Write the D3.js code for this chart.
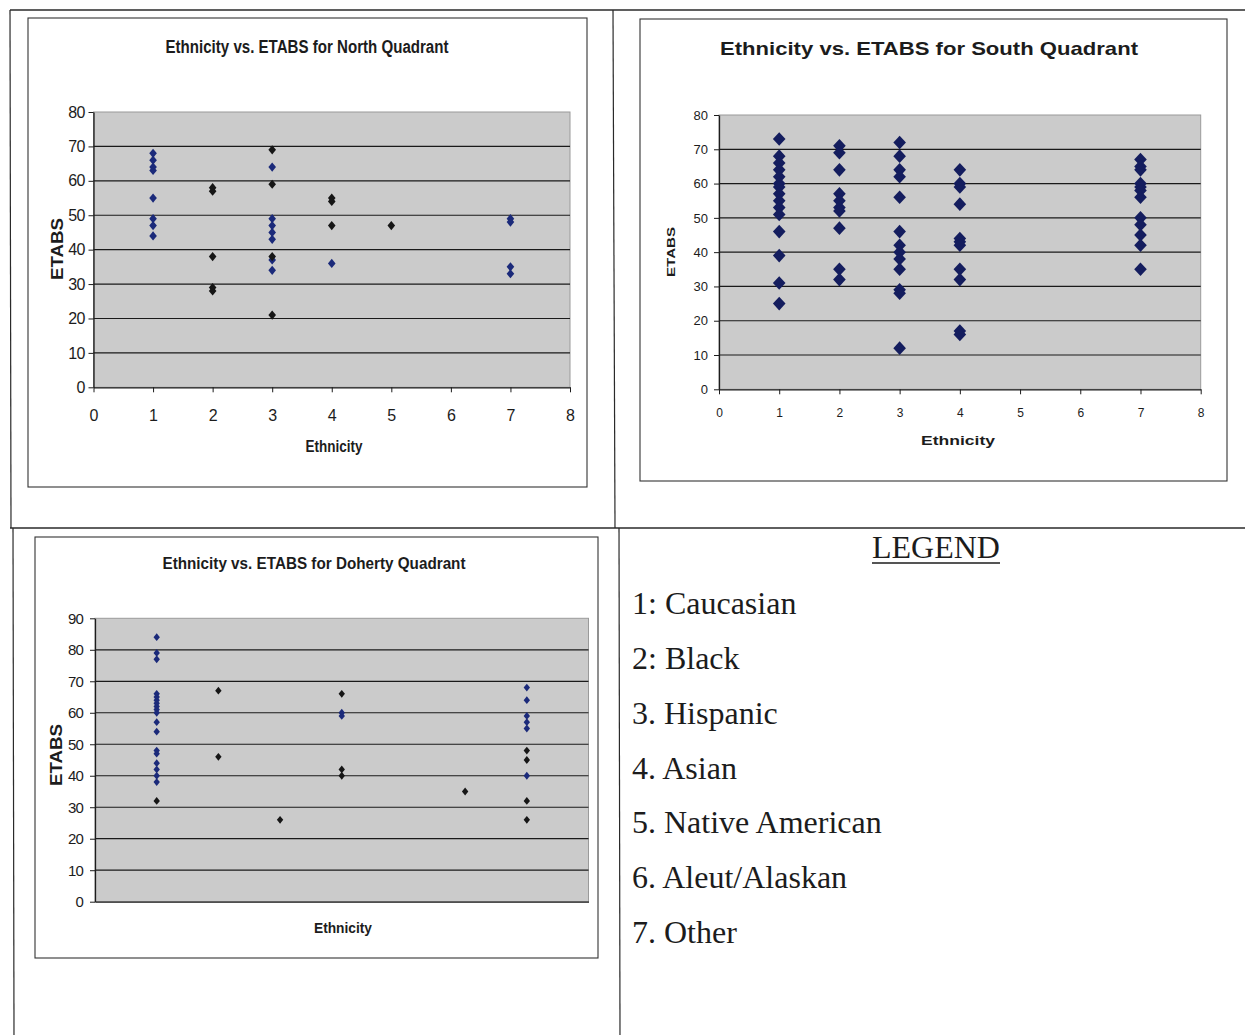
<!DOCTYPE html>
<html><head><meta charset="utf-8">
<script src="https://cdn.jsdelivr.net/npm/d3@7"></script>
<style>body{margin:0;background:#fff} svg{display:block}</style>
</head><body>
<svg id="c" width="1245" height="1035"></svg>
<script>
// ---------- DATA ----------
const xTicks = [0,1,2,3,4,5,6,7,8];
const northYTicks = [0,10,20,30,40,50,60,70,80];
const southYTicks = [0,10,20,30,40,50,60,70,80];
const dohertyYTicks = [0,10,20,30,40,50,60,70,80,90];

// [ethnicity, ETABS]
const northSeriesA = [[1,68],[1,66],[1,64],[1,63],[1,55],[1,49],[1,47],[1,44],
  [3,64],[3,49],[3,47],[3,45],[3,43],[3,37],[3,34],[4,36],[7,49],[7,48],[7,35],[7,33]];
const northSeriesB = [[2,58],[2,57],[2,38],[2,29],[2,28],[3,69],[3,59],[3,38],[3,21],
  [4,55],[4,54],[4,47],[5,47]];

const southSeries = [[1,73],[1,68],[1,66],[1,64],[1,62],[1,60],[1,59],[1,57],[1,55],[1,53],[1,51],[1,46],[1,39],[1,31],[1,25],
  [2,71],[2,69],[2,64],[2,57],[2,55],[2,53],[2,52],[2,47],[2,35],[2,32],
  [3,72],[3,68],[3,64],[3,62],[3,56],[3,46],[3,42],[3,40],[3,38],[3,35],[3,29],[3,28],[3,12],
  [4,64],[4,60],[4,59],[4,54],[4,44],[4,43],[4,42],[4,35],[4,32],[4,17],[4,16],
  [7,67],[7,65],[7,64],[7,60],[7,59],[7,58],[7,56],[7,50],[7,48],[7,45],[7,42],[7,35]];

const dohertySeriesA = [[1,84],[1,79],[1,77],[1,66],[1,65],[1,64],[1,63],[1,62],[1,61],[1,60],[1,57],[1,54],
  [1,48],[1,47],[1,44],[1,42],[1,40],[1,38],[4,60],[4,59],[7,68],[7,64],[7,59],[7,57],[7,55],[7,40]];
const dohertySeriesB = [[1,32],[2,67],[2,46],[3,26],[4,66],[4,42],[4,40],[6,35],[7,48],[7,45],[7,32],[7,26]];

const legendTitle = "LEGEND";
const legendItems = ["1: Caucasian","2: Black","3. Hispanic","4. Asian","5. Native American","6. Aleut/Alaskan","7. Other"];

// ---------- DRAW ----------
const svg = d3.select("#c");
const INK = "#1c1c1c";

// document table lines
const tbl = svg.append("g").attr("stroke", "#2a2a2a").attr("fill","none");
tbl.append("line").attr("x1",10).attr("y1",10).attr("x2",1245).attr("y2",10).attr("stroke-width",1.6);
tbl.append("line").attr("x1",10).attr("y1",10).attr("x2",11).attr("y2",528).attr("stroke-width",1.2);
tbl.append("line").attr("x1",13).attr("y1",528).attr("x2",14).attr("y2",1035).attr("stroke-width",1.2);
tbl.append("line").attr("x1",613).attr("y1",10).attr("x2",615).attr("y2",528).attr("stroke-width",1.2);
tbl.append("line").attr("x1",619).attr("y1",528).attr("x2",620).attr("y2",1035).attr("stroke-width",1.2);
tbl.append("line").attr("x1",10).attr("y1",528).attr("x2",1245).attr("y2",528).attr("stroke-width",1.4);

function diamond(hw, hh){ return `M0,${-hh}L${hw},0L0,${hh}L${-hw},0Z`; }

function drawChart(c){
  const g = svg.append("g");
  g.append("rect").attr("x",c.box[0]).attr("y",c.box[1]).attr("width",c.box[2]-c.box[0]).attr("height",c.box[3]-c.box[1])
    .attr("fill","#fff").attr("stroke","#333").attr("stroke-width",1.1);
  const x = d3.scaleLinear().domain([0,8]).range([c.left,c.right]);
  const y = d3.scaleLinear().domain([0,c.ymax]).range([c.bottom,c.top]);
  g.append("rect").attr("x",c.left).attr("y",c.top).attr("width",c.right-c.left).attr("height",c.bottom-c.top)
    .attr("fill","#cbcbcb").attr("stroke","#9a9a9a").attr("stroke-width",1);
  g.append("g").selectAll("line").data(c.yTicks.filter(v=>v>0 && v<c.ymax)).join("line")
    .attr("x1",c.left).attr("x2",c.right).attr("y1",d=>y(d)).attr("y2",d=>y(d))
    .attr("stroke","#1a1a1a").attr("stroke-width",1.2);
  // y axis
  const ya = g.append("g").attr("transform",`translate(${c.left},0)`)
    .call(d3.axisLeft(y).tickValues(c.yTicks).tickSize(5).tickPadding(c.yPad).tickSizeOuter(0));
  ya.select(".domain").attr("stroke",INK).attr("stroke-width",1.3);
  ya.selectAll(".tick line").attr("stroke",INK);
  ya.selectAll("text").attr("font-family","Liberation Sans, Arial, sans-serif").attr("font-size",c.yFont)
    .attr("fill",INK).attr("letter-spacing",c.yLs||0);
  // x axis
  const xa = g.append("g").attr("transform",`translate(0,${c.bottom})`)
    .call(d3.axisBottom(x).tickValues(xTicks).tickSize(c.xLabels?5:0).tickPadding(c.xPad).tickSizeOuter(0)
      .tickFormat(c.xLabels? d3.format("d") : ()=>""));
  xa.select(".domain").attr("stroke",INK).attr("stroke-width",1.3);
  xa.selectAll(".tick line").attr("stroke",INK);
  xa.selectAll("text").attr("font-family","Liberation Sans, Arial, sans-serif").attr("font-size",c.xFont).attr("fill",INK);
  // title
  g.append("text").attr("x",c.title.x).attr("y",c.title.y).attr("text-anchor","middle")
    .attr("font-family","Liberation Sans, Arial, sans-serif").attr("font-weight","bold").attr("font-size",c.title.size)
    .attr("fill",INK).attr("textLength",c.title.len).attr("lengthAdjust","spacingAndGlyphs").text(c.title.text);
  // axis titles
  g.append("text").attr("x",c.xt.x).attr("y",c.xt.y).attr("text-anchor","middle")
    .attr("font-family","Liberation Sans, Arial, sans-serif").attr("font-weight","bold").attr("font-size",c.xt.size)
    .attr("fill",INK).attr("textLength",c.xt.len).attr("lengthAdjust","spacingAndGlyphs").text("Ethnicity");
  g.append("text").attr("transform",`translate(${c.yt.x},${c.yt.y}) rotate(-90)`).attr("text-anchor","middle")
    .attr("dominant-baseline","central")
    .attr("font-family","Liberation Sans, Arial, sans-serif").attr("font-weight","bold").attr("font-size",c.yt.size)
    .attr("fill",INK).attr("textLength",c.yt.len).attr("lengthAdjust","spacingAndGlyphs").text("ETABS");
  // points
  c.series.forEach(s=>{
    g.append("g").selectAll("path").data(s.data).join("path")
      .attr("transform",d=>`translate(${x(d[0])},${y(d[1])})`)
      .attr("d",diamond(s.hw,s.hh)).attr("fill",s.color);
  });
}

drawChart({
  box:[28,18,587,487], left:93.5, right:570, top:112, bottom:387.3, ymax:80, yTicks:northYTicks,
  yPad:4, yFont:16, yLs:-0.8, xLabels:true, xPad:17, xFont:16,
  title:{x:307,y:53,size:18,len:283,text:"Ethnicity vs. ETABS for North Quadrant"},
  xt:{x:334,y:452,size:16,len:57}, yt:{x:57.5,y:249,size:16,len:62},
  series:[{data:northSeriesA,color:"#1b2a7a",hw:3.8,hh:4.6},{data:northSeriesB,color:"#161616",hw:3.8,hh:4.6}]
});
drawChart({
  box:[640,19,1227,481], left:719, right:1200.7, top:115, bottom:389.3, ymax:80, yTicks:southYTicks,
  yPad:6, yFont:13, xLabels:true, xPad:14, xFont:12,
  title:{x:929,y:55,size:19,len:418,text:"Ethnicity vs. ETABS for South Quadrant"},
  xt:{x:958,y:445,size:12,len:74}, yt:{x:671,y:252,size:11,len:50},
  series:[{data:southSeries,color:"#141d5e",hw:6.3,hh:6.8}]
});
drawChart({
  box:[35,537,598,958], left:95, right:588.5, top:618.3, bottom:901.7, ymax:90, yTicks:dohertyYTicks,
  yPad:7, yFont:15, yLs:-0.8, xLabels:false, xPad:0, xFont:12,
  title:{x:314,y:569,size:17,len:303,text:"Ethnicity vs. ETABS for Doherty Quadrant"},
  xt:{x:343,y:933,size:15,len:58}, yt:{x:56,y:755,size:16,len:62},
  series:[{data:dohertySeriesA,color:"#1b2a7a",hw:3.2,hh:3.9},{data:dohertySeriesB,color:"#161616",hw:3.2,hh:3.9}]
});

// legend
const lg = svg.append("g").attr("font-family","Liberation Serif, Times New Roman, serif").attr("fill","#1c1c1c");
lg.append("text").attr("x",936).attr("y",558).attr("text-anchor","middle").attr("font-size",31)
  .attr("textLength",128).attr("lengthAdjust","spacingAndGlyphs").text(legendTitle);
lg.append("line").attr("x1",872).attr("x2",1000).attr("y1",563).attr("y2",563).attr("stroke","#1c1c1c").attr("stroke-width",1.3);
const legendY = d3.scalePoint().domain(legendItems).range([614,943]);
lg.selectAll("text.item").data(legendItems).join("text").attr("class","item")
  .attr("x",632).attr("y",d=>legendY(d)).attr("font-size",32).text(d=>d);
</script>
</body></html>
